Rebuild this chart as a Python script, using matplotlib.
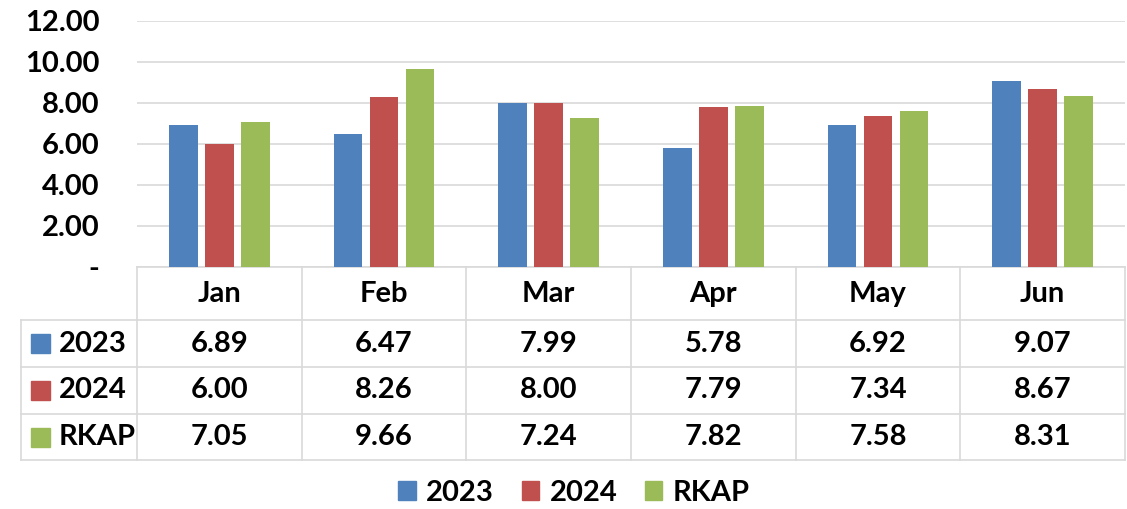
import matplotlib
matplotlib.use("Agg")
import matplotlib.pyplot as plt
from matplotlib.patches import Rectangle
import numpy as np

months = ["Jan", "Feb", "Mar", "Apr", "May", "Jun"]
series_names = ["2023", "2024", "RKAP"]
v2023 = [6.89, 6.47, 7.99, 5.78, 6.92, 9.07]
v2024 = [6.00, 8.26, 8.00, 7.79, 7.34, 8.67]
vrkap = [7.05, 9.66, 7.24, 7.82, 7.58, 8.31]
yticks = [0, 2, 4, 6, 8, 10, 12]
ytick_labels = ["-", "2.00", "4.00", "6.00", "8.00", "10.00", "12.00"]
colors = ["#4f81bd", "#c0504d", "#9bbb59"]

plt.rcParams['font.family'] = ['Lato', 'DejaVu Sans']
W, H = 1127, 509
fig = plt.figure(figsize=(W / 100, H / 100), dpi=100)

def fx(px):
    return px / W

def fy(py):
    return 1 - py / H

# plot area
L, R, T, B = 137, 1125, 20.5, 267
ax = fig.add_axes([fx(L), fy(B), fx(R) - fx(L), fy(T) - fy(B)])
x = np.arange(len(months))
bw = 0.175
off = 0.219
all_vals = [v2023, v2024, vrkap]
for i, (vals, c) in enumerate(zip(all_vals, colors)):
    ax.bar(x + (i - 1) * off, vals, width=bw, color=c, zorder=3)
ax.set_xlim(-0.5, len(months) - 0.5)
ax.set_ylim(0, 12)
ax.set_yticks(yticks)
ax.set_yticklabels(ytick_labels, fontsize=21, fontweight='bold')
ax.tick_params(axis='y', length=0, pad=27)
ax.set_xticks([])
ax.grid(axis='y', color='#d9d9d9', linewidth=1.2, zorder=0)
for s in ['top', 'right', 'left']:
    ax.spines[s].set_visible(False)
ax.spines['bottom'].set_color('#d9d9d9')
ax.spines['bottom'].set_linewidth(1.2)

# data table
TL, TB = 21, 460
colw = (R - L) / len(months)
left_units = (L - TL) / colw
tab = fig.add_axes([fx(TL), fy(TB), fx(R) - fx(TL), fy(B) - fy(TB)])
tab.set_xlim(-0.5 - left_units, len(months) - 0.5)
tab.set_ylim(TB, B)  # pixel rows, inverted
tab.axis('off')
row_edges = [267, 320, 367, 414, 460]
lc = '#d9d9d9'
lw = 1.2
for k in range(len(months) + 1):
    tab.plot([k - 0.5, k - 0.5], [row_edges[0], row_edges[-1]], color=lc, lw=lw, clip_on=False)
tab.plot([-0.5 - left_units] * 2, [row_edges[1], row_edges[-1]], color=lc, lw=lw, clip_on=False)
for yy in row_edges[1:]:
    tab.plot([-0.5 - left_units, len(months) - 0.5], [yy, yy], color=lc, lw=lw, clip_on=False)
hdr_c = (row_edges[0] + row_edges[1]) / 2
for k, m in enumerate(months):
    tab.text(k, hdr_c, m, ha='center', va='center', fontsize=21, fontweight='bold')
sq_w = 19 / colw
for r, (name, vals, c) in enumerate(zip(series_names, all_vals, colors)):
    yc = (row_edges[r + 1] + row_edges[r + 2]) / 2
    x0 = -0.5 - left_units + 10 / colw
    tab.add_patch(Rectangle((x0, yc - 9.5), sq_w, 19, color=c, clip_on=False))
    tab.text(x0 + 28 / colw, yc, name, ha='left', va='center', fontsize=21, fontweight='bold')
    for k, v in enumerate(vals):
        tab.text(k, yc, f"{v:.2f}", ha='center', va='center', fontsize=21, fontweight='bold')

# legend
handles = [Rectangle((0, 0), 1, 1, color=c) for c in colors]
fig.legend(handles, series_names, loc='center', bbox_to_anchor=(fx(574), fy(493)),
           ncol=3, frameon=False, prop={'size': 21, 'weight': 'bold'},
           handlelength=0.6, handleheight=0.6, handletextpad=0.35, columnspacing=0.95)

fig.savefig("out.png", dpi=100)
